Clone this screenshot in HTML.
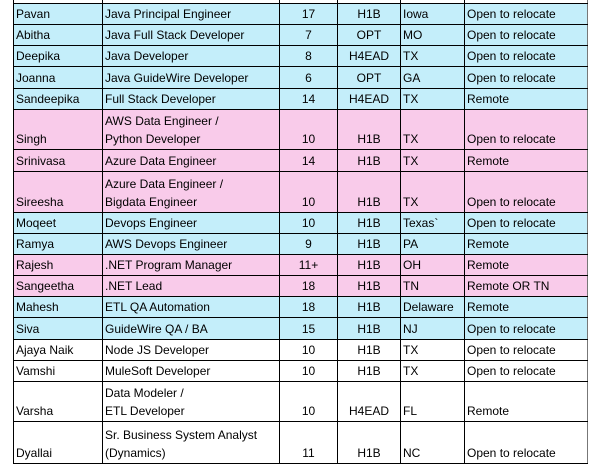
<!DOCTYPE html>
<html><head><meta charset="utf-8"><style>
html,body{margin:0;padding:0;width:600px;height:450px;overflow:hidden;background:#fff}
table{position:absolute;left:13px;top:-18px;border-collapse:collapse;table-layout:fixed;font-family:"Liberation Sans",sans-serif;font-size:12px;color:#000}
td{border:1px solid #000;padding:0 0 1px 2px;vertical-align:bottom;line-height:18px;overflow:hidden;white-space:nowrap;box-sizing:border-box}
td.c{text-align:center;padding-left:0}
td:last-child{border-right-color:#777}
.b td{background:#c4eefa}
.p td{background:#f9cbea}
</style></head><body>
<table>
<colgroup><col style="width:89px"><col style="width:177px"><col style="width:58px"><col style="width:63px"><col style="width:64px"><col style="width:123px"></colgroup>
<tr style="height:21px"><td></td><td></td><td></td><td></td><td></td><td></td></tr>
<tr class="b" style="height:21px"><td>Pavan</td><td>Java Principal Engineer</td><td class="c">17</td><td class="c">H1B</td><td>Iowa</td><td>Open to relocate</td></tr>
<tr class="b" style="height:21px"><td>Abitha</td><td>Java Full Stack Developer</td><td class="c">7</td><td class="c">OPT</td><td>MO</td><td>Open to relocate</td></tr>
<tr class="b" style="height:21px"><td>Deepika</td><td>Java Developer</td><td class="c">8</td><td class="c">H4EAD</td><td>TX</td><td>Open to relocate</td></tr>
<tr class="b" style="height:22px"><td>Joanna</td><td>Java GuideWire Developer</td><td class="c">6</td><td class="c">OPT</td><td>GA</td><td>Open to relocate</td></tr>
<tr class="b" style="height:21px"><td>Sandeepika</td><td>Full Stack Developer</td><td class="c">14</td><td class="c">H4EAD</td><td>TX</td><td>Remote</td></tr>
<tr class="p" style="height:40px"><td>Singh</td><td>AWS Data Engineer /<br>Python Developer</td><td class="c">10</td><td class="c">H1B</td><td>TX</td><td>Open to relocate</td></tr>
<tr class="p" style="height:22px"><td>Srinivasa</td><td>Azure Data Engineer</td><td class="c">14</td><td class="c">H1B</td><td>TX</td><td>Remote</td></tr>
<tr class="p" style="height:41px"><td>Sireesha</td><td>Azure Data Engineer /<br>Bigdata Engineer</td><td class="c">10</td><td class="c">H1B</td><td>TX</td><td>Open to relocate</td></tr>
<tr class="b" style="height:21px"><td>Moqeet</td><td>Devops Engineer</td><td class="c">10</td><td class="c">H1B</td><td>Texas`</td><td>Open to relocate</td></tr>
<tr class="b" style="height:21px"><td>Ramya</td><td>AWS Devops Engineer</td><td class="c">9</td><td class="c">H1B</td><td>PA</td><td>Remote</td></tr>
<tr class="p" style="height:21px"><td>Rajesh</td><td>.NET Program Manager</td><td class="c">11+</td><td class="c">H1B</td><td>OH</td><td>Remote</td></tr>
<tr class="p" style="height:21px"><td>Sangeetha</td><td>.NET Lead</td><td class="c">18</td><td class="c">H1B</td><td>TN</td><td>Remote OR TN</td></tr>
<tr class="b" style="height:21px"><td>Mahesh</td><td>ETL QA Automation</td><td class="c">18</td><td class="c">H1B</td><td>Delaware</td><td>Remote</td></tr>
<tr class="b" style="height:22px"><td>Siva</td><td>GuideWire QA / BA</td><td class="c">15</td><td class="c">H1B</td><td>NJ</td><td>Open to relocate</td></tr>
<tr style="height:21px"><td>Ajaya Naik</td><td>Node JS Developer</td><td class="c">10</td><td class="c">H1B</td><td>TX</td><td>Open to relocate</td></tr>
<tr style="height:21px"><td>Vamshi</td><td>MuleSoft Developer</td><td class="c">10</td><td class="c">H1B</td><td>TX</td><td>Open to relocate</td></tr>
<tr style="height:40px"><td>Varsha</td><td>Data Modeler /<br>ETL Developer</td><td class="c">10</td><td class="c">H4EAD</td><td>FL</td><td>Remote</td></tr>
<tr style="height:42px"><td>Dyallai</td><td>Sr. Business System Analyst<br>(Dynamics)</td><td class="c">11</td><td class="c">H1B</td><td>NC</td><td>Open to relocate</td></tr>
</table>
</body></html>
